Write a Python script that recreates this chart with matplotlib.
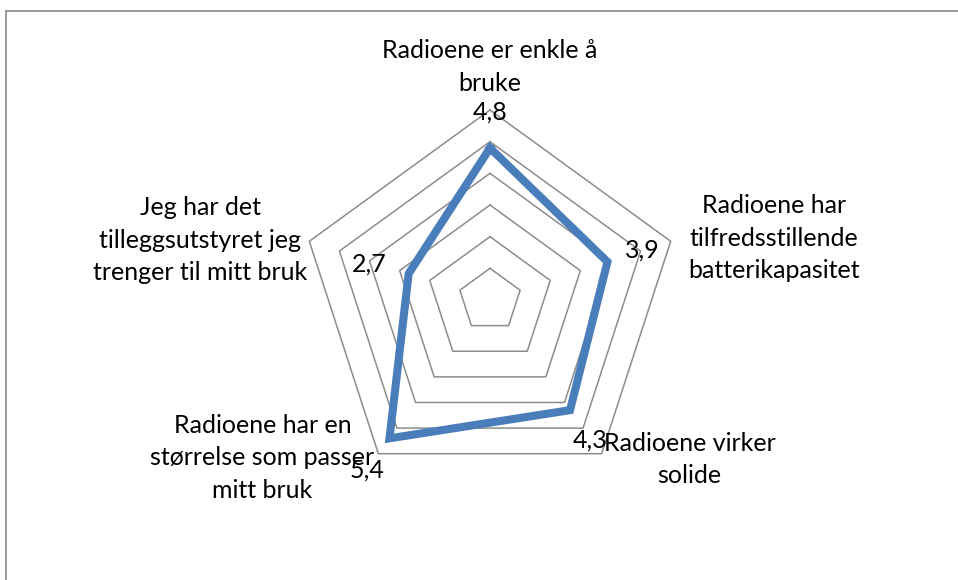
import numpy as np
import matplotlib
matplotlib.use("Agg")
import matplotlib.pyplot as plt
from matplotlib.patches import Rectangle

plt.rcParams['font.family'] = ['Lato', 'DejaVu Sans']

categories = [
    "Radioene er enkle å\nbruke",
    "Radioene har\ntilfredsstillende\nbatterikapasitet",
    "Radioene virker\nsolide",
    "Radioene har en\nstørrelse som passer\nmitt bruk",
    "Jeg har det\ntilleggsutstyret jeg\ntrenger til mitt bruk",
]
values = [4.8, 3.9, 4.3, 5.4, 2.7]
value_labels = ["4,8", "3,9", "4,3", "5,4", "2,7"]
ring_levels = [1, 2, 3, 4, 5, 6]

W, H = 958, 580
fig = plt.figure(figsize=(W / 100, H / 100), dpi=100)

# chart border (only top and left visible in the crop)
fig.patches.append(Rectangle((6 / W, -0.1), 2, 1 - 11 / H + 0.1, transform=fig.transFigure,
                             fill=False, edgecolor='#868686', linewidth=1.2))

cx, cy, R = 490, 300, 190
ax = fig.add_axes([(cx - R) / W, 1 - (cy + R) / H, 2 * R / W, 2 * R / H], projection='polar')
ax.set_theta_offset(np.pi / 2)
ax.set_theta_direction(-1)
ax.set_ylim(0, 6)
ax.grid(False)
ax.spines['polar'].set_visible(False)
ax.set_xticks([])
ax.set_yticks([])
ax.patch.set_alpha(0)

n = len(categories)
angles = np.arange(n) * 2 * np.pi / n
closed = np.append(angles, angles[0])

for lvl in ring_levels:
    ax.plot(closed, [lvl] * (n + 1), color='#8c8c8c', lw=1.1, zorder=1, clip_on=False)

ax.plot(closed, values + values[:1], color='#4a7ebb', lw=5.8, zorder=3,
        solid_joinstyle='miter', clip_on=False)

fs = 18
val_offsets = [(0, 36), (35, 12), (20, -30), (-22, -32), (-39, 10)]
for a, v, lab, off in zip(angles, values, value_labels, val_offsets):
    ax.annotate(lab, xy=(a, v), xytext=off, textcoords='offset pixels',
                ha='center', va='center', fontsize=fs, zorder=5, annotation_clip=False)

cat_offsets = [(0, 43), (103, 3), (88, -6), (-116, -4), (-109, 1)]
for a, lab, off in zip(angles, categories, cat_offsets):
    ax.annotate(lab, xy=(a, 6), xytext=off, textcoords='offset pixels',
                ha='center', va='center', fontsize=fs, linespacing=1.5,
                zorder=5, annotation_clip=False)

fig.savefig("out.png", dpi=100)
